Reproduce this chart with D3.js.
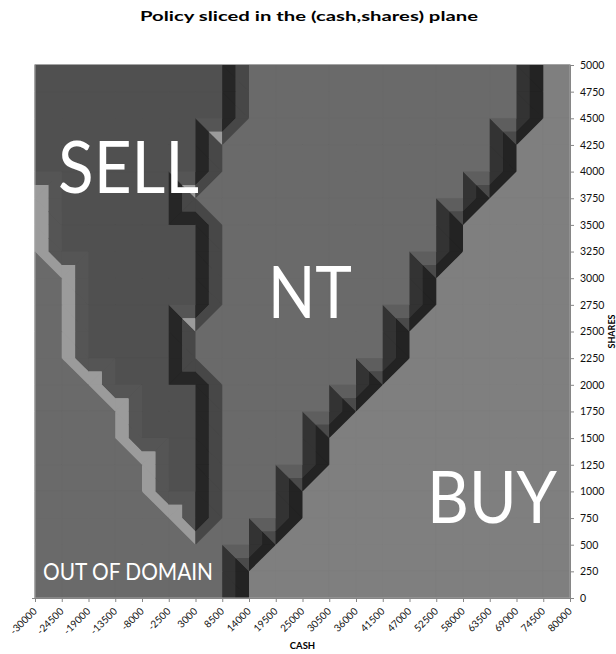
<!DOCTYPE html>
<html>
<head>
<meta charset="utf-8">
<script src="https://cdn.jsdelivr.net/npm/d3@7"></script>
<style>
  body { margin: 0; background: #fff; }
  svg { font-family: Lato, "Open Sans", sans-serif; }
</style>
</head>
<body>
<div id="chart"></div>
<script>
// Grid of the policy surface: cash along x, shares along y
var cashTicks = [-30000, -24500, -19000, -13500, -8000, -2500, 3000, 8500, 14000, 19500, 25000,
                 30500, 36000, 41500, 47000, 52500, 58000, 63500, 69000, 74500, 80000];
var sharesTicks = [0, 250, 500, 750, 1000, 1250, 1500, 1750, 2000, 2250, 2500,
                   2750, 3000, 3250, 3500, 3750, 4000, 4250, 4500, 4750, 5000];

// policy at each grid point, first row = 5000 shares, last row = 0 shares
// S = sell, N = no trade, B = buy, O = out of domain
var policyRows = [
    "SSSSSSSSNNNNNNNNNNNBB", // 5000
    "SSSSSSSSNNNNNNNNNNNBB", // 4750
    "SSSSSSSSNNNNNNNNNNNBB", // 4500
    "SSSSSSSNNNNNNNNNNNBBB", // 4250
    "SSSSSSSNNNNNNNNNNNBBB", // 4000
    "OSSSSSNNNNNNNNNNNBBBB", // 3750
    "OSSSSSSNNNNNNNNNBBBBB", // 3500
    "OSSSSSSNNNNNNNNNBBBBB", // 3250
    "OOSSSSSNNNNNNNNBBBBBB", // 3000
    "OOSSSSSNNNNNNNNBBBBBB", // 2750
    "OOSSSSNNNNNNNNBBBBBBB", // 2500
    "OOSSSSNNNNNNNNBBBBBBB", // 2250
    "OOOSSSSNNNNNNBBBBBBBB", // 2000
    "OOOOSSSNNNNNBBBBBBBBB", // 1750
    "OOOOSSSNNNNBBBBBBBBBB", // 1500
    "OOOOOSSNNNNBBBBBBBBBB", // 1250
    "OOOOOSSNNNBBBBBBBBBBB", // 1000
    "OOOOOOSNNNBBBBBBBBBBB", // 750
    "OOOOOOONNBBBBBBBBBBBB", // 500
    "OOOOOOONBBBBBBBBBBBBB", // 250
    "OOOOOOONBBBBBBBBBBBBB"  // 0
];
var policyValue = {S: -1, N: 0, O: 0, B: 1};

// surface value bands and their shades
var bandEdges = [-1, -0.5, 0, 0.5, 1];
var bandDark = ["#262626", "#474747", "#333333", "#232323"];
var bandLight = ["#555555", "#9b9b9b", "#5e5e5e", "#4a4a4a"];
var flatColor = {"-1": "#505050", "0": "#6a6a6a", "1": "#7f7f7f"};

var regionLabels = [
    {text: "SELL", x: 58, y: 193, size: 72, len: 141},
    {text: "NT", x: 268, y: 318, size: 72, len: 84},
    {text: "BUY", x: 427, y: 523, size: 72, len: 130},
    {text: "OUT OF DOMAIN", x: 43, y: 580, size: 23.5, len: 170}
];

var svgWidth = 616;
var svgHeight = 654;
var plot = {left: 35, right: 570, top: 65, bottom: 598};

var svg = d3.select("#chart").append("svg").attr("width", svgWidth).attr("height", svgHeight);

var xScale = d3.scaleLinear()
    .domain([cashTicks[0], cashTicks[cashTicks.length - 1]])
    .range([plot.left, plot.right]);
var yScale = d3.scaleLinear()
    .domain([sharesTicks[0], sharesTicks[sharesTicks.length - 1]])
    .range([plot.bottom, plot.top]);

var rowShares = sharesTicks.slice().reverse();

function gridPoint(col, row) {
    return {
        x: xScale(cashTicks[col]),
        y: yScale(rowShares[row]),
        f: policyValue[policyRows[row][col]]
    };
}

// keep the part of a polygon where sign*(f - t) >= 0
function clipPoly(poly, t, sign) {
    var out = [];
    for (var i = 0; i < poly.length; i++) {
        var a = poly[i], b = poly[(i + 1) % poly.length];
        var ina = sign * (a.f - t) >= 0, inb = sign * (b.f - t) >= 0;
        if (ina !== inb) {
            var s = (t - a.f) / (b.f - a.f);
            out.push({x: a.x + s * (b.x - a.x), y: a.y + s * (b.y - a.y), f: t});
        }
        if (inb) out.push(b);
    }
    return out;
}

function polyArea(poly) {
    var s = 0;
    for (var i = 0; i < poly.length; i++) {
        var a = poly[i], b = poly[(i + 1) % poly.length];
        s += a.x * b.y - b.x * a.y;
    }
    return Math.abs(s / 2);
}

var flatPieces = [];
var slopePieces = [];

function addTriangle(tri) {
    var p0 = tri[0], p1 = tri[1], p2 = tri[2];
    if (p0.f === p1.f && p1.f === p2.f) {
        flatPieces.push({pts: tri, color: flatColor[String(p0.f)]});
        return;
    }
    var d = (p1.x - p0.x) * (p2.y - p0.y) - (p2.x - p0.x) * (p1.y - p0.y);
    var gx = ((p1.f - p0.f) * (p2.y - p0.y) - (p2.f - p0.f) * (p1.y - p0.y)) / d;
    var gy = ((p1.x - p0.x) * (p2.f - p0.f) - (p2.x - p0.x) * (p1.f - p0.f)) / d;
    var dark = gx > 1e-9 || (Math.abs(gx) <= 1e-9 && gy < 0);
    for (var b = 0; b < bandEdges.length - 1; b++) {
        var poly = clipPoly(clipPoly(tri, bandEdges[b], 1), bandEdges[b + 1], -1);
        if (poly.length >= 3 && polyArea(poly) > 0.05) {
            slopePieces.push({pts: poly, color: dark ? bandDark[b] : bandLight[b]});
        }
    }
}

for (var row = 0; row < rowShares.length - 1; row++) {
    for (var col = 0; col < cashTicks.length - 1; col++) {
        var ul = gridPoint(col, row), ur = gridPoint(col + 1, row);
        var ll = gridPoint(col, row + 1), lr = gridPoint(col + 1, row + 1);
        if (ul.f === ur.f && ul.f === ll.f && ul.f === lr.f) {
            // flat cell, keep it whole
            flatPieces.push({pts: [ul, ur, lr, ll], color: flatColor[String(ul.f)]});
            continue;
        }
        // split the cell along the diagonal carrying the higher corners
        var tris = (ul.f + lr.f >= ll.f + ur.f) ? [[ul, ll, lr], [ul, ur, lr]] : [[ul, ur, ll], [ur, ll, lr]];
        tris.forEach(addTriangle);
    }
}

var line = d3.line().x(d => d.x).y(d => d.y);

svg.append("rect")
    .attr("x", plot.left)
    .attr("y", plot.top)
    .attr("width", plot.right - plot.left)
    .attr("height", plot.bottom - plot.top)
    .attr("fill", flatColor["0"]);

var surface = svg.append("g");

// underlay of the sloped bands, stroked to hide seams
surface.append("g").selectAll("path")
    .data(slopePieces)
    .enter()
    .append("path")
    .attr("d", d => line(d.pts) + "Z")
    .attr("fill", d => d.color)
    .attr("stroke", d => d.color)
    .attr("stroke-width", 1);

surface.append("g").selectAll("path")
    .data(flatPieces)
    .enter()
    .append("path")
    .attr("d", d => line(d.pts) + "Z")
    .attr("fill", d => d.color)
    .attr("stroke", d => d.color)
    .attr("stroke-width", 1);

surface.append("g").selectAll("path")
    .data(slopePieces)
    .enter()
    .append("path")
    .attr("d", d => line(d.pts) + "Z")
    .attr("fill", d => d.color);

// plot border
svg.append("rect")
    .attr("x", plot.left)
    .attr("y", plot.top - 0.5)
    .attr("width", plot.right - plot.left)
    .attr("height", plot.bottom - plot.top + 0.5)
    .attr("fill", "none")
    .attr("stroke", "#a4a4a4")
    .attr("stroke-width", 1);

// axes
var xAxis = svg.append("g")
    .attr("transform", `translate(0,${plot.bottom})`)
    .call(d3.axisBottom(xScale).tickValues(cashTicks).tickSize(4).tickSizeOuter(0).tickFormat(d => String(d)));
xAxis.select(".domain").attr("d", `M${plot.left - 3},0.5H${plot.right}`);
xAxis.selectAll("text")
    .attr("x", 0)
    .attr("y", 0)
    .attr("dy", 0)
    .attr("text-anchor", "end")
    .attr("transform", "translate(2,14) rotate(-45)")
    .attr("font-size", 10)
    .attr("fill", "#111");

var yAxis = svg.append("g")
    .attr("transform", `translate(${plot.right},0)`)
    .call(d3.axisRight(yScale).tickValues(sharesTicks).tickSize(4).tickPadding(6).tickSizeOuter(0).tickFormat(d => String(d)));
yAxis.selectAll("text")
    .attr("font-size", 10.5)
    .attr("fill", "#111");

svg.selectAll(".domain, .tick line").attr("stroke", "#868686");
svg.selectAll(".tick text").attr("font-family", "Lato, sans-serif");

// axis titles
svg.append("text")
    .attr("x", (plot.left + plot.right) / 2)
    .attr("y", 649)
    .attr("text-anchor", "middle")
    .attr("font-size", 9.5)
    .attr("font-weight", "bold")
    .text("CASH");

svg.append("text")
    .attr("transform", `translate(615,${(plot.top + plot.bottom) / 2}) rotate(-90)`)
    .attr("text-anchor", "middle")
    .attr("font-size", 9)
    .attr("font-weight", "bold")
    .text("SHARES");

// chart title
svg.append("text")
    .attr("x", 309)
    .attr("y", 21)
    .attr("text-anchor", "middle")
    .attr("font-size", 14)
    .attr("font-weight", "bold")
    .attr("textLength", 338)
    .attr("lengthAdjust", "spacingAndGlyphs")
    .text("Policy sliced in the (cash,shares) plane");

// region names
svg.append("g").selectAll("text")
    .data(regionLabels)
    .enter()
    .append("text")
    .attr("x", d => d.x)
    .attr("y", d => d.y)
    .attr("font-size", d => d.size)
    .attr("textLength", d => d.len)
    .attr("lengthAdjust", "spacingAndGlyphs")
    .attr("fill", "#fff")
    .text(d => d.text);
</script>
</body>
</html>
